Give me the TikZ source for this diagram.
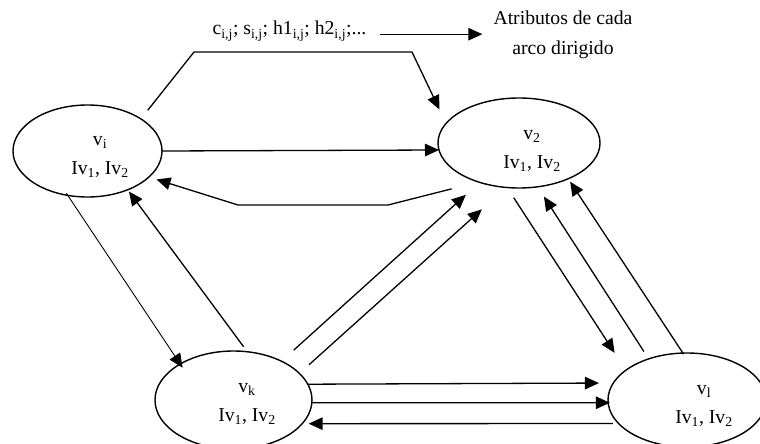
\documentclass[tikz,border=0pt]{standalone}
\usepackage{fontspec}
\setmainfont{Liberation Serif}
\usetikzlibrary{arrows.meta,shapes.geometric}
\tikzset{
  vert/.style={draw, ellipse, line width=1.4pt, inner sep=0pt, outer sep=0pt},
  lbl/.style={align=center, inner sep=0pt, font=\fontsize{19.7}{29.5}\selectfont},
  arc/.style={line width=1.3pt, -{Triangle[length=14pt,width=12.5pt]}}
}

\begin{document}
\begin{tikzpicture}[x=1pt,y=-1pt]
\useasboundingbox (0,0) rectangle (760,444);
\node[vert, minimum width=149pt, minimum height=92pt] (vi) at (87.5,151) {};
\node[vert, minimum width=162pt, minimum height=90pt] (v2) at (519,143) {};
\node[vert, minimum width=157pt, minimum height=98pt] (vk) at (233.5,400) {};
\node[vert, minimum width=158pt, minimum height=94pt] (vl) at (687,400) {};
\node[lbl] (vi-t) at (100,157) {v\textsubscript{i}\\Iv\textsubscript{1}, Iv\textsubscript{2}};
\node[lbl] (v2-t) at (532,151) {v\textsubscript{2}\\Iv\textsubscript{1}, Iv\textsubscript{2}};
\node[lbl] (vk-t) at (247,404) {v\textsubscript{k}\\Iv\textsubscript{1}, Iv\textsubscript{2}};
\node[lbl] (vl-t) at (704,406) {v\textsubscript{l}\\Iv\textsubscript{1}, Iv\textsubscript{2}};
\node[lbl, anchor=base] (attr) at (289.5,35) {c\textsubscript{i,j}; s\textsubscript{i,j}; h1\textsubscript{i,j}; h2\textsubscript{i,j};...};
\node[lbl] (desc) at (563,35) {Atributos de cada\\arco dirigido};
\draw[arc, shorten <=13pt, shorten >=11pt] ([yshift=-3pt]attr.east) -- ([yshift=-3pt]attr.east -| desc.west);

\coordinate (ca) at (194,52);
\coordinate (cb) at (412,52);
\coordinate (cc) at (388,205);
\coordinate (cd) at (238,205);
\draw[arc, shorten <=11pt, shorten >=15.5pt] (vi.31) -- (ca) -- (cb) -- (v2.165.6);
\draw[arc] (vi.0.8) -- (v2.185);
\draw[arc, shorten <=27.8pt, shorten >=8pt] (v2.224.4) -- (cc) -- (cd) -- (vi.-23.7);
\draw[arc, line width=0.9pt, shorten <=-2.5pt, shorten >=-4.4pt] (vi.246.4) -- (vk.146.8);
\draw[arc, shorten <=6.2pt, shorten >=2.2pt] (vk.74.3) -- (vi.-44.6);
\draw[arc, shorten <=16.5pt, shorten >=18.6pt] (vk.39.4) -- (v2.225.9);
\draw[arc, shorten <=12.9pt, shorten >=32.8pt] (vk.22.8) -- (v2.-106);
\draw[arc, shorten <=12.2pt, shorten >=20.7pt] (v2.-105.5) -- (vl.154.6);
\draw[arc, shorten <=8.8pt, shorten >=11.7pt] (vl.133.6) -- (v2.-67.7);
\draw[arc, shorten <=-1.3pt, shorten >=3.5pt] (vl.95.3) -- (v2.-36.1);
\draw[arc, shorten >=14.4pt] (vk.12.2) -- (vl.167.85);
\draw[arc, shorten >=-1.7pt] (vk.-2.9) -- (vl.182.9);
\draw[arc, shorten <=5.8pt, shorten >=6.4pt] (vl.199.5) -- (vk.-19.3);
\end{tikzpicture}
\end{document}
